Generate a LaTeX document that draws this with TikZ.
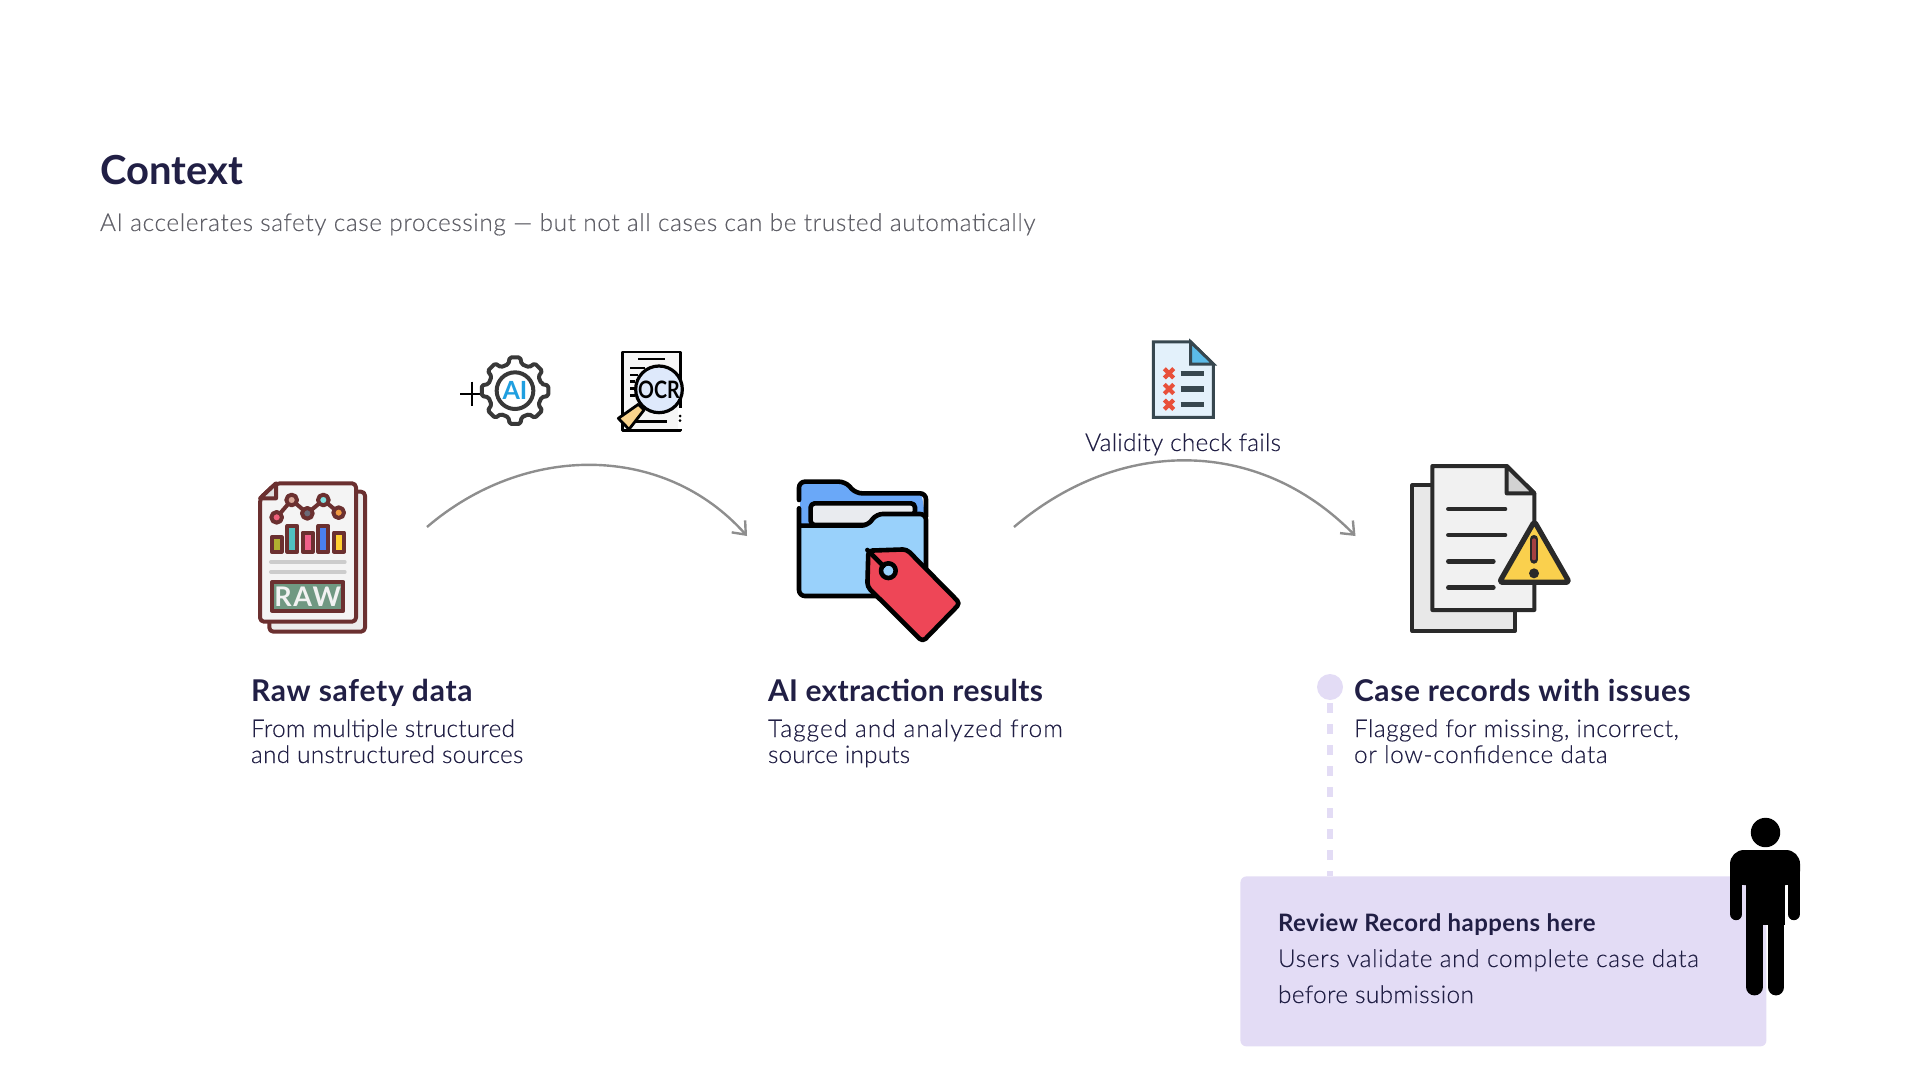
\documentclass[tikz,border=0pt]{standalone}
\usepackage{fontspec}
\setmainfont{Lato}
\newfontfamily\lt[FakeBold=0.25]{Lato Light}
\usetikzlibrary{arrows.meta}
\definecolor{ink}{HTML}{211F45}
\definecolor{sub}{HTML}{606068}
\definecolor{lilac}{HTML}{E3DCF5}
\definecolor{arc}{HTML}{8E8E8E}
\definecolor{raw}{HTML}{6B3030}
\definecolor{rawgreen}{RGB}{112,152,130}
\definecolor{aiblue}{RGB}{31,159,224}
\definecolor{tan}{RGB}{249,211,140}
\definecolor{lens}{RGB}{222,233,251}
\definecolor{folderback}{RGB}{106,168,248}
\definecolor{folderfront}{RGB}{153,209,251}
\definecolor{paper}{RGB}{233,235,239}
\definecolor{tagred}{RGB}{238,70,87}
\definecolor{slate}{HTML}{37474F}
\definecolor{pale}{RGB}{227,241,251}
\definecolor{ear}{RGB}{91,187,232}
\definecolor{xred}{RGB}{232,80,58}
\definecolor{dk}{HTML}{2A2A2A}
\definecolor{warn}{RGB}{250,208,77}
\definecolor{bang}{RGB}{165,65,65}
\newcommand{\ls}[1]{\addfontfeature{LetterSpace=#1}}
\tikzset{
  zoomed/.style={x=0.16667pt,y=-0.16667pt},
  txt/.style={anchor=base west,inner sep=0pt,outer sep=0pt,text=ink},
  headtxt/.style={txt,font=\bfseries\fontsize{15}{17}\selectfont},
  bodytxt/.style={txt,font=\lt\fontsize{12.2}{14}\selectfont},
  flow/.style={draw=arc,line width=1.2pt,-{Straight Barb[length=5.5pt,width=9pt]}},
}
\begin{document}
\begin{tikzpicture}[x=0.5pt,y=-0.5pt]
\useasboundingbox (0,0) rectangle (1920,1080);
% Titles
\node[txt,font=\bfseries\fontsize{20}{22}\selectfont] (title) at (100,185) {Context};
\node[txt,font=\lt\fontsize{12.2}{14}\selectfont,text=sub] (subtitle) at (100,231) {\ls{2.5}AI accelerates safety case processing — but not all cases can be trusted automatically};
% Raw icon
\begin{scope}[shift={(240,460)},zoomed,line width=2pt,draw=raw,line join=round]
\filldraw[fill=gray!15,rounded corners=2pt] (88,95) rectangle (375,515);
\filldraw[fill=gray!9,rounded corners=2pt] (60,115) -- (108,70) -- (348,70) -- (348,485) -- (60,485) -- cycle;
\filldraw[fill=gray!25] (60,115) -- (108,70) -- (108,115) -- cycle;
\draw (110,172) -- (155,120) -- (202,160) -- (250,120) -- (296,158);
\foreach \px/\py/\c in {110/172/F0607A,155/120/D9A898,202/160/6A6A78,250/120/7FE0E0,296/158/F09A40}{
  \definecolor{tmp}{HTML}{\c}
  \filldraw[fill=tmp] (\px,\py) circle[radius=16];}
\foreach \xa/\xb/\yy/\c in {95/125/232/B0B030,142/172/198/50C0C0,188/218/218/F0608A,235/265/198/4A80F0,282/312/218/FFD030}{
  \definecolor{tmp}{HTML}{\c}
  \filldraw[fill=tmp] (\xa,\yy) rectangle (\xb,275);}
\draw[draw=gray!40,line cap=round] (93,306) -- (314,306) (93,336) -- (314,336);
\filldraw[fill=rawgreen] (96,366) rectangle (310,452);
\node[inner sep=0pt,text=white!90!gray,font=\bfseries\fontsize{13.5}{14}\selectfont] (rawtxt) at (203,410) {\ls{6}RAW};
\end{scope}
% Plus and gear
\begin{scope}[shift={(450,340)},zoomed]
\draw[line width=0.9pt,black] (30,162) -- (100,162) (65,125) -- (65,198);
\begin{scope}[shift={(195,152)}]
\draw[line width=2pt,draw=black!78,line join=round,fill=white,rounded corners=0.8pt]
  (-14:82) \foreach \a in {0,45,...,315}{ -- (\a-14:82) -- (\a-9:101) -- (\a+9:101) -- (\a+14:82)} -- cycle;
\draw[line width=2pt,draw=black!78] (0,0) circle[radius=55];
\node[inner sep=0pt,text=aiblue,font=\bfseries\fontsize{12.5}{14}\selectfont] (aitxt) at (0,0) {AI};
\end{scope}
% OCR
\draw[line width=1.4pt,black,fill=gray!7,line join=round] (518,36) rectangle (692,272);
\draw[line width=1.2pt,black] (565,57) -- (645,57) (540,84) -- (585,84) (540,105) -- (565,105) (540,125) -- (555,125) (540,146) -- (555,146) (540,167) -- (555,167) (555,245) -- (650,245);
\fill[white] (684,205) rectangle (700,268);
\fill[black] (690,228) circle[radius=4.5] (690,242) circle[radius=4.5];
\draw[line width=1.4pt,black,fill=tan,line join=round] (565,193) -- (582,210) -- (537,268) -- (505,235) -- cycle;
\draw[line width=1.6pt,black,fill=lens] (627,148) circle[radius=70];
\node[inner sep=0pt,text=black,xscale=0.82,font=\bfseries\fontsize{12}{14}\selectfont] (ocrtxt) at (627,148) {OCR};
\end{scope}
% Folder icon
\begin{scope}[shift={(780,460)},zoomed,line width=2.3pt,black,line join=round,line cap=round]
\fill[folderback] (60,200) -- (60,68) -- (190,68) -- (228,102) -- (425,102) -- (435,165) -- cycle;
\draw[rounded corners=3pt] (57,120) -- (57,65) -- (195,65) -- (228,100) -- (438,100) -- (438,170);
\filldraw[fill=paper,rounded corners=2pt] (92,195) -- (92,130) -- (405,130) -- (405,165) -- (290,165) -- (265,195) -- cycle;
\filldraw[fill=folderfront,rounded corners=3pt] (57,145) -- (57,408) -- (438,408) -- (438,162) -- (290,162) -- (262,197) -- (62,197);
\filldraw[fill=tagred,rounded corners=2pt] (265,272) -- (380,268) -- (540,430) -- (428,545) -- (262,380) -- cycle;
\filldraw[fill=folderfront] (325,332) circle[radius=22];
\draw (262,270) -- (310,318);
\end{scope}
% Checklist icon
\begin{scope}[shift={(1130,330)},zoomed,line join=miter]
\filldraw[line width=1.5pt,draw=slate,fill=pale] (70,36) -- (182,36) -- (250,102) -- (250,262) -- (70,262) -- cycle;
\filldraw[line width=1.5pt,draw=slate,fill=ear] (182,36) -- (182,102) -- (250,102) -- cycle;
\foreach \yy in {130,177,224}{
  \draw[line width=2.7pt,draw=slate] (152,\yy) -- (222,\yy);
  \draw[line width=2.1pt,draw=xred] (103,\yy-14) -- (131,\yy+14) (131,\yy-14) -- (103,\yy+14);}
\end{scope}
% Warning icon
\begin{scope}[shift={(1390,450)},zoomed,line join=round]
\filldraw[line width=2pt,draw=dk,fill=gray!18] (67,106) rectangle (375,543);
\filldraw[line width=2pt,draw=dk,fill=gray!11] (127,48) -- (350,48) -- (433,130) -- (433,480) -- (127,480) -- cycle;
\filldraw[line width=2pt,draw=dk,fill=gray!35] (350,48) -- (350,130) -- (433,130) -- cycle;
\draw[line width=2.3pt,draw=dk,line cap=round] (175,177) -- (345,177) (175,255) -- (345,255) (175,334) -- (310,334) (175,413) -- (310,413);
\filldraw[line width=2.6pt,draw=dk,fill=warn,rounded corners=1.5pt] (433,214) -- (538,397) -- (328,397) -- cycle;
\draw[line width=4.4pt,draw=dk,line cap=round] (432,268) -- (432,328);
\draw[line width=1.6pt,draw=bang,line cap=round] (432,270) -- (432,326);
\fill[dk] (432,370) circle[radius=15];
\end{scope}
% Connector ends
\coordinate (a1s) at (427,527);
\coordinate (a1e) at (747,536);
\coordinate (a2s) at (1014,527);
\coordinate (a2e) at (1355.5,536);
\draw[flow] (a1s) .. controls (525,443) and (664,443) .. (a1e);
\draw[flow] (a2s) .. controls (1120,437) and (1258,437) .. (a2e);
\node[anchor=base,inner sep=0pt,text=ink,font=\lt\fontsize{12.2}{14}\selectfont] (fail) at (1183,451) {\ls{1}Validity check fails};
% Labels
\node[headtxt] (h1) at (251,701) {\ls{2.5}Raw safety data};
\node[bodytxt] (b1a) at (251,737) {\ls{0.9}From multiple structured};
\node[bodytxt] (b1b) at (251,763) {\ls{1.1}and unstructured sources};
\node[headtxt] (h2) at (768,701) {\ls{1}AI extraction results};
\node[bodytxt] (b2a) at (768,737) {\ls{4.4}Tagged and analyzed from};
\node[bodytxt] (b2b) at (768,763) {\ls{0.6}source inputs};
\node[headtxt] (h3) at (1354,701) {\ls{1.9}Case records with issues};
\node[bodytxt] (b3a) at (1354,737) {\ls{1.9}Flagged for missing, incorrect,};
\node[bodytxt] (b3b) at (1354,763) {\ls{2.6}or low-confidence data};
% Review box
\node[draw=none,fill=lilac,circle,minimum size=13pt,inner sep=0pt] (dot) at (1330,687) {};
\node[fill=lilac,rounded corners=3pt,minimum width=263pt,minimum height=85pt,inner sep=0pt,anchor=north west] (box) at (1240,876) {};
\draw[draw=lilac,line width=2.6pt,dash pattern=on 5pt off 5.5pt] (dot.south) ++(0,3) -- (dot.south |- box.north);
\node[txt,font=\bfseries\fontsize{12}{14}\selectfont] (r1) at (1278,931) {\ls{1.85}Review Record happens here};
\node[bodytxt] (r2) at (1278,967) {\ls{2.7}Users validate and complete case data};
\node[bodytxt] (r3) at (1278,1003) {\ls{1.5}before submission};
% Person
\fill[black] (1765.5,832.5) circle[radius=14.7];
\fill[black,rounded corners=7pt] (1730,850) rectangle (1800,885);
\fill[black] (1746,860) rectangle (1784.5,925);
\draw[black,line width=6.2pt,line cap=round] (1736.2,870) -- (1736.2,914);
\draw[black,line width=6.2pt,line cap=round] (1793.8,870) -- (1793.8,914);
\draw[black,line width=8.4pt,line cap=round] (1754.5,915) -- (1754.5,987);
\draw[black,line width=8.4pt,line cap=round] (1776,915) -- (1776,987);
\end{tikzpicture}
\end{document}
